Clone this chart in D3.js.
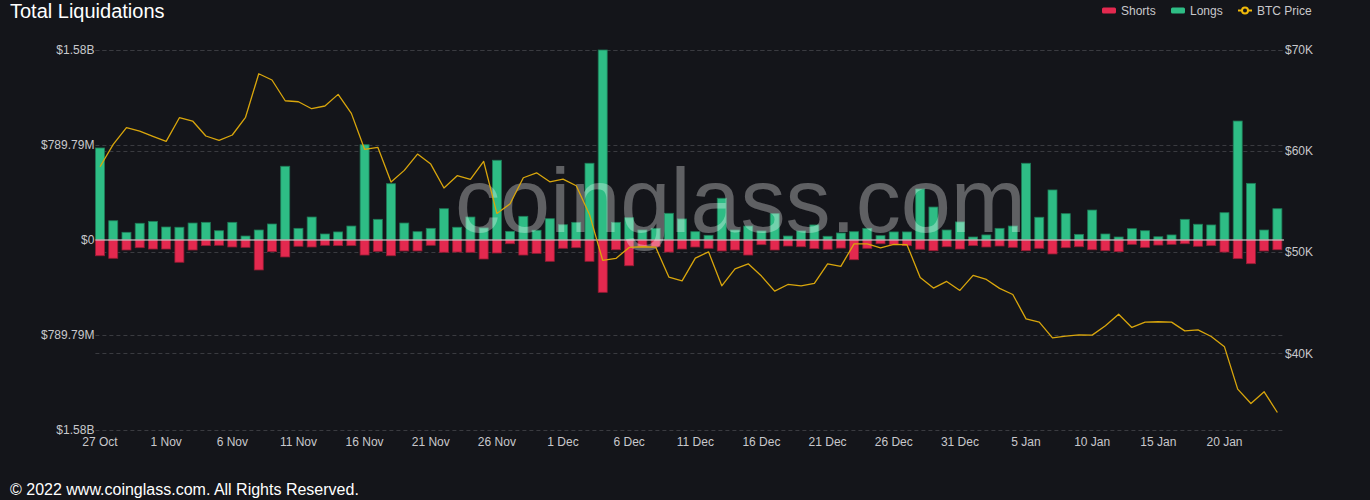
<!DOCTYPE html>
<html>
<head>
<meta charset="utf-8">
<script src="https://cdn.jsdelivr.net/npm/d3@7"></script>
<style>
  html, body { margin: 0; padding: 0; background: #14151a; }
  svg { display: block; }
  text { font-family: "Liberation Sans", Arial, sans-serif; }
</style>
</head>
<body>
<svg id="chart" width="1370" height="500"></svg>
<script>
const dates = [
  "27 Oct","28 Oct","29 Oct","30 Oct","31 Oct",
  "1 Nov","2 Nov","3 Nov","4 Nov","5 Nov","6 Nov","7 Nov","8 Nov","9 Nov","10 Nov",
  "11 Nov","12 Nov","13 Nov","14 Nov","15 Nov","16 Nov","17 Nov","18 Nov","19 Nov","20 Nov",
  "21 Nov","22 Nov","23 Nov","24 Nov","25 Nov","26 Nov","27 Nov","28 Nov","29 Nov","30 Nov",
  "1 Dec","2 Dec","3 Dec","4 Dec","5 Dec","6 Dec","7 Dec","8 Dec","9 Dec","10 Dec",
  "11 Dec","12 Dec","13 Dec","14 Dec","15 Dec","16 Dec","17 Dec","18 Dec","19 Dec","20 Dec",
  "21 Dec","22 Dec","23 Dec","24 Dec","25 Dec","26 Dec","27 Dec","28 Dec","29 Dec","30 Dec",
  "31 Dec","1 Jan","2 Jan","3 Jan","4 Jan","5 Jan","6 Jan","7 Jan","8 Jan","9 Jan",
  "10 Jan","11 Jan","12 Jan","13 Jan","14 Jan","15 Jan","16 Jan","17 Jan","18 Jan","19 Jan",
  "20 Jan","21 Jan","22 Jan","23 Jan","24 Jan"
];

// Long liquidations, millions USD
const longs = [
  765,160,64,139,155,108,106,141,147,77,
  147,33,83,133,613,97,191,50,67,116,
  792,172,468,141,69,97,260,106,191,100,
  663,72,197,81,177,127,147,638,1579.58,147,
  185,83,97,222,175,69,39,347,83,116,
  75,219,33,75,125,31,58,69,97,36,
  67,67,424,274,83,150,25,42,97,116,
  638,189,416,219,47,249,50,25,94,77,
  27,42,172,131,125,227,989,471,83,260
];

// Short liquidations, millions USD
const shorts = [
  131,152,83,64,75,75,185,83,47,44,
  58,61,249,97,141,52,58,44,47,47,
  125,94,131,91,91,44,102,100,102,158,
  108,31,125,111,177,69,64,177,435,81,
  214,56,56,100,75,58,69,91,83,125,
  39,83,50,56,72,77,67,164,69,31,
  39,47,77,89,56,75,47,58,50,61,
  89,69,116,64,56,81,89,97,36,61,
  42,36,31,52,47,100,155,197,91,81
];

// BTC price, USD
const btcPrice = [
  58450,60660,62310,61980,61460,60960,63300,62970,61490,61060,
  61590,63340,67650,67030,64980,64880,64190,64460,65610,63730,
  60170,60370,56930,58090,59700,58710,56340,57560,57200,58980,
  53830,54780,57360,57850,56960,57230,56570,53730,49180,49380,
  50470,50530,50500,47530,47160,49410,50030,46670,48350,48840,
  47630,46140,46800,46670,46900,48840,48590,50820,50820,50430,
  50760,50730,47500,46440,47100,46210,47700,47300,46410,45810,
  43400,43070,41520,41690,41820,41790,42710,43860,42550,43070,
  43110,43070,42210,42310,41650,40630,36440,35020,36180,34130
];

const tickLabels = ["27 Oct","1 Nov","6 Nov","11 Nov","16 Nov","21 Nov","26 Nov","1 Dec","6 Dec",
  "11 Dec","16 Dec","21 Dec","26 Dec","31 Dec","5 Jan","10 Jan","15 Jan","20 Jan"];
const leftTicks = [1579.58, 789.79, 0, -789.79, -1579.58];
const rightTicks = [70000, 60000, 50000, 40000];
const seriesNames = ["Shorts", "Longs", "BTC Price"];

const C = { bg: "#14151a", long: "#2ebd85", short: "#e3294f", line: "#d9a60c", grid: "#3a3b40", text: "#c8c8cc" };

const svg = d3.select("#chart");
const W = 1370, H = 500;
const plot = { left: 93.4, right: 1284, top: 50, bottom: 430 };

svg.append("rect").attr("width", W).attr("height", H).attr("fill", C.bg);

const x = d3.scaleBand().domain(dates).range([plot.left, plot.right]).paddingInner(0.32).paddingOuter(0.16);
const cx = d => x(d) + x.bandwidth() / 2;
const yL = d3.scaleLinear().domain([-1579.58, 1579.58]).range([plot.bottom, plot.top]);
const yR = d3.scaleLinear().domain([32400, 70000]).range([plot.bottom, plot.top]);

const fmtL = v => {
  const a = Math.abs(v);
  if (a === 0) return "$0";
  if (a >= 1000) return "$" + (a / 1000).toFixed(2) + "B";
  return "$" + a.toFixed(2) + "M";
};
const fmtR = v => "$" + (v / 1000) + "K";

// grid lines
const grid = svg.append("g");
leftTicks.filter(t => t !== 0).forEach(t => {
  grid.append("line").attr("x1", plot.left + 2).attr("x2", plot.right)
    .attr("y1", Math.round(yL(t)) + 0.5).attr("y2", Math.round(yL(t)) + 0.5)
    .attr("stroke", C.grid).attr("stroke-dasharray", "4,3");
});
rightTicks.forEach(t => {
  grid.append("line").attr("x1", plot.left + 2).attr("x2", plot.right)
    .attr("y1", Math.round(yR(t)) + 0.5).attr("y2", Math.round(yR(t)) + 0.5)
    .attr("stroke", C.grid).attr("stroke-dasharray", "4,3");
});

// left axis labels
const axL = d3.axisLeft(yL).tickValues(leftTicks).tickFormat(fmtL).tickSize(0).tickPadding(0);
const gL = svg.append("g").attr("transform", `translate(${plot.left + 1},0)`).call(axL);
gL.select(".domain").remove();
gL.selectAll("text").attr("fill", C.text).attr("font-size", 12).attr("font-family", "Liberation Sans, Arial, sans-serif");

// right axis labels
const axR = d3.axisRight(yR).tickValues(rightTicks).tickFormat(fmtR).tickSize(0).tickPadding(0);
const gR = svg.append("g").attr("transform", `translate(${plot.right + 1},0)`).call(axR);
gR.select(".domain").remove();
gR.selectAll("text").attr("fill", C.text).attr("font-size", 12).attr("font-family", "Liberation Sans, Arial, sans-serif");

// x axis labels
const axX = d3.axisBottom(x).tickValues(tickLabels).tickSize(0).tickPadding(0);
const gX = svg.append("g").attr("transform", `translate(0,${plot.bottom + 7})`).call(axX);
gX.select(".domain").remove();
gX.selectAll("text").attr("fill", C.text).attr("font-size", 12).attr("font-family", "Liberation Sans, Arial, sans-serif");

// bars
const bw = x.bandwidth();
svg.append("g").selectAll("rect").data(dates).join("rect")
  .attr("x", d => x(d)).attr("width", bw)
  .attr("y", (d, i) => yL(longs[i]))
  .attr("height", (d, i) => yL(0) - yL(longs[i]))
  .attr("fill", C.long).attr("stroke", d3.color(C.long).darker(1.2)).attr("stroke-width", 0.8);
svg.append("g").selectAll("rect").data(dates).join("rect")
  .attr("x", d => x(d)).attr("width", bw)
  .attr("y", yL(0))
  .attr("height", (d, i) => yL(-shorts[i]) - yL(0))
  .attr("fill", C.short).attr("stroke", d3.color(C.short).darker(1.2)).attr("stroke-width", 0.8);

// zero line
svg.append("line").attr("x1", plot.left + 2).attr("x2", plot.right)
  .attr("y1", yL(0)).attr("y2", yL(0)).attr("stroke", "#e8e8e8").attr("stroke-width", 1);

// watermark, sized to span the reference width
const wm = svg.append("text").attr("x", 0).attr("y", 232).attr("text-anchor", "start")
  .attr("font-size", 94).attr("fill", "#ffffff").attr("fill-opacity", 0.32)
  .attr("font-family", "Liberation Sans, Arial, sans-serif")
  .text("coinglass.com");
{
  const targetW = 571, targetLeft = 455;
  let bb = wm.node().getBBox();
  if (bb.width > 0) {
    const fs = 94 * targetW / bb.width;
    wm.attr("font-size", fs);
    bb = wm.node().getBBox();
    wm.attr("x", targetLeft - bb.x);
  } else {
    wm.attr("x", 455);
  }
}

// BTC line
const line = d3.line().x((d, i) => cx(dates[i])).y(d => yR(d));
svg.append("path").datum(btcPrice).attr("d", line)
  .attr("fill", "none").attr("stroke", C.line).attr("stroke-width", 1.3).attr("stroke-linejoin", "round");

// title
svg.append("text").attr("x", 10).attr("y", 18).attr("fill", "#ffffff")
  .attr("font-size", 20).text("Total Liquidations");

// legend
const lg = svg.append("g").attr("font-size", 12);
const legendItems = [
  { name: seriesNames[0], color: C.short, type: "rect", x: 1102 },
  { name: seriesNames[1], color: C.long, type: "rect", x: 1171 },
  { name: seriesNames[2], color: "#f0b90b", type: "line", x: 1238 }
];
legendItems.forEach(it => {
  if (it.type === "rect") {
    lg.append("rect").attr("x", it.x).attr("y", 7.5).attr("width", 14).attr("height", 6)
      .attr("rx", 1.5).attr("fill", it.color);
  } else {
    lg.append("line").attr("x1", it.x).attr("x2", it.x + 14).attr("y1", 10.5).attr("y2", 10.5)
      .attr("stroke", it.color).attr("stroke-width", 2);
    lg.append("circle").attr("cx", it.x + 7).attr("cy", 10.5).attr("r", 3)
      .attr("fill", C.bg).attr("stroke", it.color).attr("stroke-width", 2);
  }
  lg.append("text").attr("x", it.x + 19).attr("y", 14.5).attr("fill", C.text).text(it.name);
});

// footer
svg.append("text").attr("x", 10).attr("y", 495).attr("fill", "#ffffff")
  .attr("font-size", 16).text("© 2022 www.coinglass.com. All Rights Reserved.");
</script>
</body>
</html>
